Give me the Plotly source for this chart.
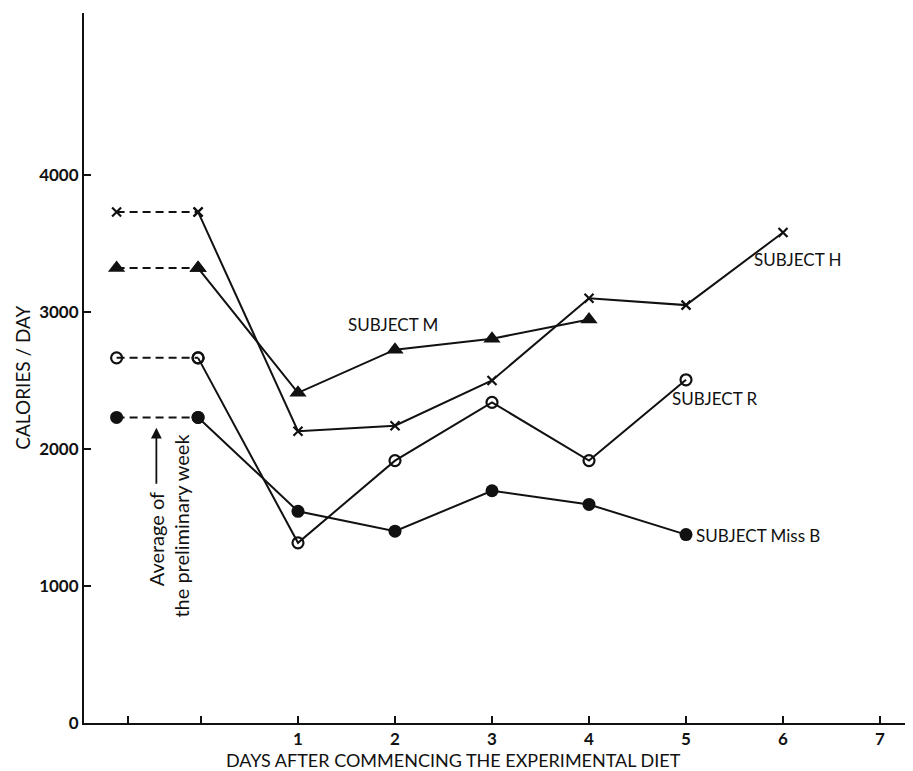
import plotly.graph_objects as go

# ---- data (calories/day) ----
pre_positions = [-0.87, -0.03]          # the two "preliminary week" points
diet_days = [1, 2, 3, 4, 5, 6]
x_tick_vals = [-0.75, 0, 1, 2, 3, 4, 5, 6, 7]
x_tick_text = ["", "", "1", "2", "3", "4", "5", "6", "7"]
y_tick_vals = [0, 1000, 2000, 3000, 4000]
y_tick_text = ["0", "1000", "2000", "3000", "4000"]

subject_h_pre = 3730
subject_h = [2130, 2170, 2500, 3100, 3050, 3580]
subject_m_pre = 3320
subject_m = [2410, 2725, 2805, 2945]
subject_r_pre = 2665
subject_r = [1315, 1915, 2340, 1915, 2505]
subject_b_pre = 2230
subject_b = [1545, 1400, 1695, 1595, 1375]

FONT = "Lato"
INK = "#111111"

fig = go.Figure()

def add_subject(pre, vals, marker):
    # dashed line for the preliminary-week average
    fig.add_trace(go.Scatter(
        x=pre_positions, y=[pre, pre], mode="lines+markers",
        line=dict(color=INK, width=2, dash="8px,5px"),
        marker=marker, hoverinfo="skip"))
    # solid line from end of preliminary week through diet days
    xs = [pre_positions[-1]] + diet_days[:len(vals)]
    ys = [pre] + vals
    fig.add_trace(go.Scatter(
        x=xs, y=ys, mode="lines+markers",
        line=dict(color=INK, width=2),
        marker=marker, hoverinfo="skip"))

add_subject(subject_h_pre, subject_h,
            dict(symbol="x-thin", size=9, color=INK, line=dict(color=INK, width=2.2)))
add_subject(subject_m_pre, subject_m,
            dict(symbol="triangle-up", size=15, color=INK))
add_subject(subject_r_pre, subject_r,
            dict(symbol="circle-open", size=11, color=INK, line=dict(color=INK, width=2.2)))
add_subject(subject_b_pre, subject_b,
            dict(symbol="circle", size=13, color=INK))

ann = []
lab = dict(family=FONT, size=17, color=INK)
ann.append(dict(x=1.5, y=2905, text="SUBJECT M", showarrow=False, xanchor="left",
                yanchor="middle", font=lab))
ann.append(dict(x=5.68, y=3380, text="SUBJECT H", showarrow=False, xanchor="left",
                yanchor="middle", font=lab))
ann.append(dict(x=4.83, y=2372, text="SUBJECT R", showarrow=False, xanchor="left",
                yanchor="middle", font=lab))
ann.append(dict(x=5, y=1372, xshift=8, text="SUBJECT Miss B", showarrow=False,
                xanchor="left", yanchor="middle", font=lab))

# Preliminary-week note (rotated) with arrow
note_font = dict(family=FONT, size=20, color=INK)
ann.append(dict(x=-0.46, y=1343, text="Average of", textangle=-90, showarrow=False,
                xanchor="center", yanchor="middle", font=note_font))
ann.append(dict(x=-0.21, y=1438, text="the preliminary week", textangle=-90,
                showarrow=False, xanchor="center", yanchor="middle", font=note_font))
ann.append(dict(x=-0.46, y=2155, ax=-0.46, ay=1735, axref="x", ayref="y",
                xref="x", yref="y", text="", showarrow=True, arrowhead=2,
                arrowsize=1.2, arrowwidth=1.8, arrowcolor=INK))

# axis titles
ann.append(dict(xref="paper", x=0, xshift=-61, y=2520, text="CALORIES / DAY",
                textangle=-90, showarrow=False, xanchor="center", yanchor="middle",
                font=dict(family=FONT, size=19, color=INK)))
ann.append(dict(x=2.6, yref="paper", y=0, yshift=-37,
                text="DAYS AFTER COMMENCING THE EXPERIMENTAL DIET", showarrow=False,
                xanchor="center", yanchor="middle",
                font=dict(family=FONT, size=18, color=INK)))

tick_font = dict(family=FONT, size=17, color=INK, weight="bold")

fig.update_layout(
    width=913, height=771,
    margin=dict(l=76, r=8, t=5, b=56),
    paper_bgcolor="white", plot_bgcolor="white",
    showlegend=False,
    annotations=ann,
    xaxis=dict(range=[-1.206, 7.34], tickmode="array", tickvals=x_tick_vals,
               ticktext=x_tick_text, ticks="inside", ticklen=7, tickwidth=1.5,
               tickcolor=INK, showline=True, linecolor=INK, linewidth=2,
               showgrid=False, zeroline=False, tickfont=tick_font,
               ticklabelstandoff=0),
    yaxis=dict(range=[0, 5182], tickmode="array", tickvals=y_tick_vals,
               ticktext=y_tick_text, ticks="inside", ticklen=7, tickwidth=1.5,
               tickcolor=INK, showline=True, linecolor=INK, linewidth=2,
               showgrid=False, zeroline=False, tickfont=tick_font),
)

fig.write_html("out.html")
